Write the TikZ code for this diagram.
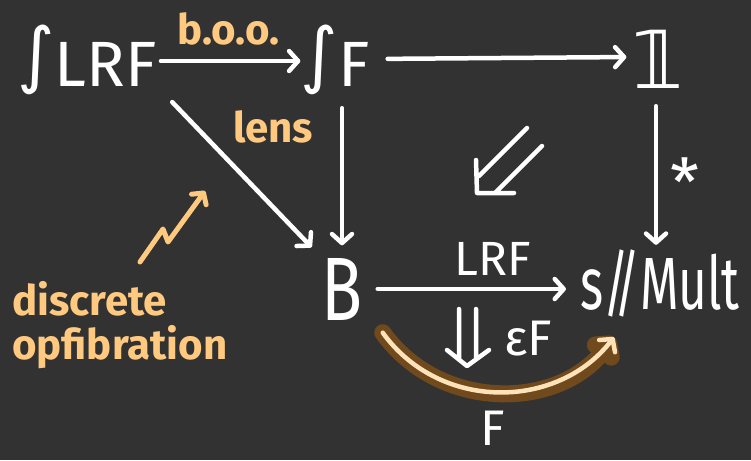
\documentclass[tikz,border=0pt]{standalone}
\usepackage{fontspec}
\setmainfont{Fira Sans}
\newfontfamily\symfont{DejaVu Sans}
\usetikzlibrary{arrows.meta}
\definecolor{bg}{HTML}{323232}
\definecolor{peach}{HTML}{FFC97F}
\definecolor{peachlight}{HTML}{FFE2B8}
\definecolor{umber}{HTML}{704A1C}
\newcommand{\narrow}[2][0.75]{\scalebox{#1}[1]{#2}}
\newcommand{\intsign}{{\symfont\fontsize{72}{72}\selectfont\raisebox{7pt}{∫}}}

\begin{document}
\begin{tikzpicture}[x=1pt, y=-1pt,
    obj/.style={text=white, inner sep=0pt, text depth=0pt},
    note/.style={text=peach, font=\fontsize{42}{44}\selectfont\bfseries, inner sep=0pt},
    lbl/.style={text=white, inner sep=0pt},
    arr/.style={-{Straight Barb[round, length=9pt, width=20pt]}, line width=4.5pt, white, line cap=round},
    dbl/.style={white, line width=4.5pt, line cap=round, line join=round},
]
\fill[bg] (0,0) rectangle (751,460);
\useasboundingbox (0,0) rectangle (751,460);

% objects
\node[obj, font=\fontsize{64}{64}\selectfont, text height=50pt] (lrf) at (87,61) {\intsign LRF};
\node[obj, font=\fontsize{64}{64}\selectfont, text height=50pt] (sf) at (335,61) {\intsign F};
\node[obj, font=\symfont\fontsize{80}{80}\selectfont, text height=58pt] (one) at (658,59) {𝟙};
\node[obj, font=\fontsize{90}{90}\selectfont, text height=63pt] (b) at (342,289) {\narrow{B}};
\node[obj, font=\fontsize{74}{74}\selectfont, text height=52pt] (mult) at (660,283) {\narrow[0.67]{s/\kern-.3em/Mult}};

% 1-cells
\draw[arr, shorten <=4pt] (lrf.east) -- (sf.west) node[note, midway, above=14pt] (boo) {b.o.o.};
\draw[arr, shorten <=18pt, shorten >=6pt] ([yshift=2pt]sf.east) -- ([yshift=2pt]one.west);
\draw[arr, shorten <=22pt, shorten >=14pt] (lrf.south east) -- (b.north west);
\draw[arr, shorten <=22pt, shorten >=12pt] (sf.south -| b.north) -- (b.north);
\draw[arr, shorten <=18pt, shorten >=12pt] ([xshift=-2pt]one.south) -- ([xshift=-2pt]one.south |- mult.north);
\draw[arr, shorten <=15pt, shorten >=14pt] (b.east) -- (b.east -| mult.west);
\draw[umber, line width=17pt, line cap=round, -{Straight Barb[round, length=9pt, width=20pt]}]
    ([shift={(20,12)}]b.south east) .. controls (440,412) and (558,410) .. ([shift={(34,28)}]mult.south west);
\draw[peachlight, line width=4.5pt, line cap=round, -{Straight Barb[round, length=9pt, width=20pt]}]
    ([shift={(20,12)}]b.south east) .. controls (440,412) and (558,410) .. ([shift={(34,28)}]mult.south west);

% labels
\node[note] (lens) at (273,127) {lens};
\node[lbl, font=\fontsize{48}{48}\selectfont] (lrflbl) at (493,259) {LRF};
\node[lbl, font=\fontsize{66}{66}\selectfont] (star) at (685,182) {*};
\node[lbl, font=\fontsize{50}{50}\selectfont] (flbl) at (493,428) {F};
\node[lbl, font=\fontsize{50}{50}\selectfont] (eps) at (528,339) {εF};

% 2-cells
\coordinate (cellA) at (477,193);
\draw[dbl] (527,128) -- (479,176) (542,146) -- (495,193) (476,160) -- (cellA) -- (514,193);
\coordinate (cellB) at (467,366);
\draw[dbl] (459,309) -- (459,358) (476,309) -- (476,358) (447,350) -- (cellB) -- (489,350);

% discrete opfibration
\node[note, align=left, anchor=north west] (disc) at (12,281) {discrete\\opfibration};
\coordinate (z0) at (140,262);
\coordinate (z3) at (205,191);
\draw[peach, line width=5pt, line cap=round, line join=round, -{Straight Barb[round, length=8pt, width=18pt]}]
    (z0) -- (163,229) -- (168,242) -- (z3);

\end{tikzpicture}
\end{document}
